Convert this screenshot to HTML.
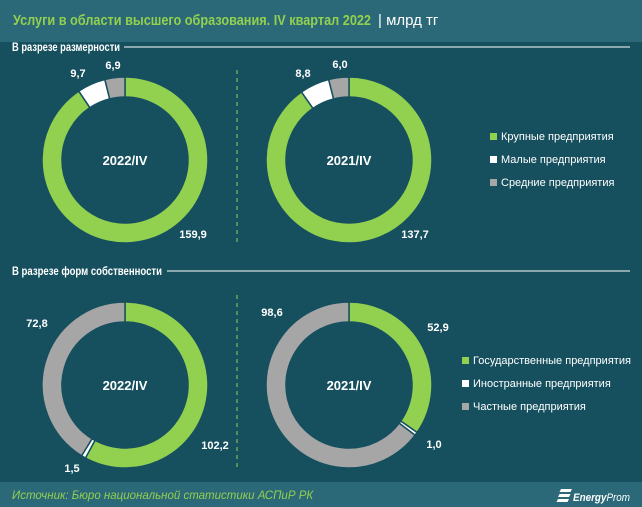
<!DOCTYPE html>
<html><head><meta charset="utf-8"><style>
body{margin:0;width:642px;height:507px;overflow:hidden;background:#16505e;font-family:"Liberation Sans","DejaVu Sans",sans-serif;}
svg{display:block}
</style></head><body>
<svg id="c" width="642" height="507">
<rect x="0" y="0" width="642" height="42" fill="#2b6878"/>
<text x="13" y="25" font-size="15" fill="#92d050" font-weight="bold" textLength="358" lengthAdjust="spacingAndGlyphs">Услуги в области высшего образования. IV квартал 2022</text>
<text x="378" y="25" font-size="15" fill="#fff">| млрд тг</text>
<text x="12" y="51" font-size="11.5" font-weight="bold" fill="#fff" textLength="108" lengthAdjust="spacingAndGlyphs">В разрезе размерности</text>
<line x1="124" y1="47" x2="630" y2="47" stroke="#fff" stroke-width="1"/>
<text x="12" y="275" font-size="11.5" font-weight="bold" fill="#fff" textLength="150" lengthAdjust="spacingAndGlyphs">В разрезе форм собственности</text>
<line x1="167" y1="271" x2="630" y2="271" stroke="#fff" stroke-width="1"/>
<line x1="237" y1="70" x2="237" y2="245" stroke="#92d050" stroke-dasharray="4,4"/>
<line x1="237" y1="295" x2="237" y2="470" stroke="#92d050" stroke-dasharray="4,4"/>
<rect x="0" y="482" width="642" height="25" fill="#2b6878"/>
<text x="12" y="499" font-size="11.5" font-style="italic" fill="#92d050">Источник: Бюро национальной статистики АСПиР РК</text>
<g><path d="M561 489h11l-1.5 3h-11zM559.5 494h11l-1.5 3h-11zM558 499h11l-1.5 3h-11z" fill="#fff"/>
<text x="573" y="501" font-size="11" font-style="italic" fill="#fff" textLength="57" lengthAdjust="spacingAndGlyphs"><tspan font-weight="bold">Energy</tspan>Prom</text></g>
<g id="g"></g>
</svg>
<script>
const sizeCats=["Крупные предприятия","Малые предприятия","Средние предприятия"];
const size2022=[159.9,9.7,6.9];
const size2021=[137.7,8.8,6.0];
const ownCats=["Государственные предприятия","Иностранные предприятия","Частные предприятия"];
const own2022=[102.2,1.5,72.8];
const own2021=[52.9,1.0,98.6];
const colors=["#92d050","#ffffff","#a6a6a6"];
const NS="http://www.w3.org/2000/svg";
const g=document.getElementById('g');
function mk(t,a){const e=document.createElementNS(NS,t);for(const k in a)e.setAttribute(k,a[k]);g.appendChild(e);return e;}
function fmt(v){return v.toFixed(1).replace('.',',');}
function donut(cx,cy,vals,center,name,offs){
  const R=83,r=63,tot=vals.reduce((a,b)=>a+b,0);let a0=0;
  vals.forEach((v,i)=>{
    const a1=a0+v/tot*2*Math.PI;
    const p=(rad,a)=>[cx+rad*Math.sin(a),cy-rad*Math.cos(a)];
    const L=(a1-a0)>Math.PI?1:0;
    const [x1,y1]=p(R,a0),[x2,y2]=p(R,a1),[x3,y3]=p(r,a1),[x4,y4]=p(r,a0);
    const e=mk('path',{d:`M${x1},${y1}A${R},${R} 0 ${L} 1 ${x2},${y2}L${x3},${y3}A${r},${r} 0 ${L} 0 ${x4},${y4}Z`,fill:colors[i],stroke:'#16505e','stroke-width':1.5});
    
    
    const t=mk('text',{x:cx+offs[i][0],y:cy+offs[i][1]+4,'font-size':11,'font-weight':'bold',fill:'#fff','text-anchor':'middle'});
    t.textContent=fmt(v);
    
    
    a0=a1;
  });
  const c=mk('text',{x:cx,y:cy+5,'font-size':13,'font-weight':'bold',fill:'#fff','text-anchor':'middle'});
  c.textContent=center;
  
  
}
function legend(x,y,cats,name){
  cats.forEach((c,i)=>{
    const s=mk('rect',{x:x,y:y+i*23-7,width:7,height:7,fill:colors[i]});
    
    
    const t=mk('text',{x:x+11,y:y+i*23,'font-size':11,fill:'#fff'});
    t.textContent=c;
    
    
  });
}
donut(125,160,size2022,"2022/IV","size-2022",[[68,74],[-47,-87],[-12,-95]]);
donut(349,160,size2021,"2021/IV","size-2021",[[66,74],[-46,-87],[-9,-96]]);
donut(125,385,own2022,"2022/IV","own-2022",[[90,60],[-53,83],[-88,-62]]);
donut(349,385,own2021,"2021/IV","own-2021",[[89,-58],[85,59],[-77,-73]]);
legend(490,140,sizeCats,"legend-size");
legend(462,364,ownCats,"legend-own");
</script>
</body></html>
